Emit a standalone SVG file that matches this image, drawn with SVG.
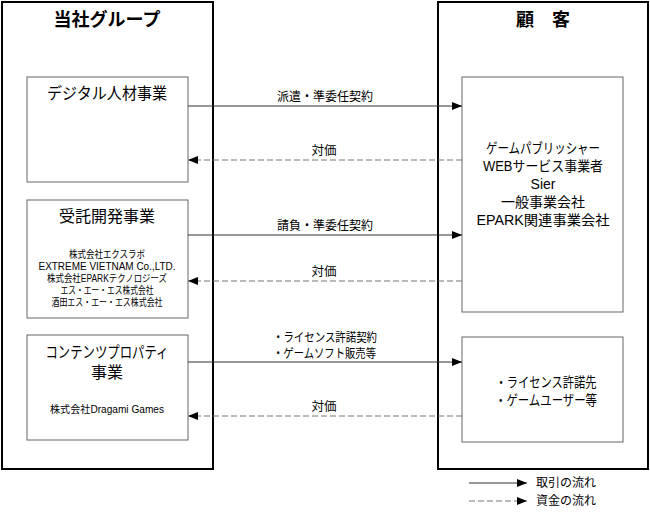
<svg xmlns="http://www.w3.org/2000/svg" width="650" height="515" viewBox="0 0 650 515">
<defs>
<marker id="ah" viewBox="0 0 10 10" refX="10" refY="5" markerWidth="10" markerHeight="10" markerUnits="userSpaceOnUse" orient="auto">
<path d="M0,1 L10,5 L0,9 Z" fill="#000"/>
</marker>
</defs>
<style>
text{font-family:"Liberation Sans","Noto Sans CJK JP",sans-serif;fill:#000;text-anchor:middle}
.outer{fill:#fff;stroke:#000;stroke-width:2}
.inner{fill:#fff;stroke:#666;stroke-width:1}
.h1{font-size:18px;font-weight:bold;font-family:"Noto Sans CJK JP",sans-serif}
.h2{font-size:16px}
.sm{font-size:10px}
.md{font-size:14px}
.lb{font-size:12.5px}
.lg{font-size:12px}
.solid{stroke:#333;stroke-width:1;fill:none}
.dash{stroke:#777;stroke-width:1.2;stroke-dasharray:6,3;fill:none}
</style>
<rect width="650" height="515" fill="#fff"/>
<g id="group-left">
<rect class="outer" x="2" y="2" width="211" height="467"/>
<text class="h1" x="107" y="26">当社グループ</text>
</g>
<g id="group-right">
<rect class="outer" x="438" y="2" width="210" height="467"/>
<text class="h1" x="543" y="26" xml:space="preserve">顧　客</text>
</g>
<g id="node-digital">
<rect class="inner" x="27" y="77" width="161" height="105"/>
<text class="h2" x="107" y="99" textLength="120" lengthAdjust="spacingAndGlyphs">デジタル人材事業</text>
</g>
<g id="node-contract">
<rect class="inner" x="27" y="200" width="161" height="118"/>
<text class="h2" x="107" y="222">受託開発事業</text>
<text class="sm" x="107" y="258" textLength="76" lengthAdjust="spacingAndGlyphs">株式会社エクスラボ</text>
<text class="sm" x="107" y="270" textLength="137" lengthAdjust="spacingAndGlyphs">EXTREME VIETNAM Co.,LTD.</text>
<text class="sm" x="107" y="282" textLength="120" lengthAdjust="spacingAndGlyphs">株式会社EPARKテクノロジーズ</text>
<text class="sm" x="107" y="294" textLength="93" lengthAdjust="spacingAndGlyphs">エス・エー・エス株式会社</text>
<text class="sm" x="107" y="306" textLength="111" lengthAdjust="spacingAndGlyphs">酒田エス・エー・エス株式会社</text>
</g>
<g id="node-content">
<rect class="inner" x="27" y="335" width="161" height="105"/>
<text class="h2" x="107" y="358" textLength="123" lengthAdjust="spacingAndGlyphs">コンテンツプロパティ</text>
<text class="h2" x="107" y="378">事業</text>
<text class="sm" x="107" y="413" textLength="114" lengthAdjust="spacingAndGlyphs">株式会社Dragami Games</text>
</g>
<g id="node-customers">
<rect class="inner" x="462" y="77" width="161" height="235"/>
<text class="md" x="543" y="153" textLength="114" lengthAdjust="spacingAndGlyphs">ゲームパブリッシャー</text>
<text class="md" x="543" y="171" textLength="120" lengthAdjust="spacingAndGlyphs">WEBサービス事業者</text>
<text class="md" x="543" y="189">Sier</text>
<text class="md" x="543" y="207">一般事業会社</text>
<text class="md" x="543" y="225" textLength="133" lengthAdjust="spacingAndGlyphs">EPARK関連事業会社</text>
</g>
<g id="node-licensees">
<rect class="inner" x="462" y="337" width="161" height="105"/>
<text class="md" x="546" y="387" textLength="101" lengthAdjust="spacingAndGlyphs">・ライセンス許諾先</text>
<text class="md" x="546" y="405" textLength="102" lengthAdjust="spacingAndGlyphs">・ゲームユーザー等</text>
</g>
<g id="connectors">
<line class="solid" x1="188" y1="106" x2="462" y2="106" marker-end="url(#ah)"/>
<text class="lb" x="325" y="101" textLength="96" lengthAdjust="spacingAndGlyphs">派遣・準委任契約</text>
<line class="dash" x1="462" y1="160" x2="188" y2="160" marker-end="url(#ah)"/>
<text class="lb" x="324" y="155">対価</text>
<line class="solid" x1="188" y1="235" x2="462" y2="235" marker-end="url(#ah)"/>
<text class="lb" x="325" y="230" textLength="96" lengthAdjust="spacingAndGlyphs">請負・準委任契約</text>
<line class="dash" x1="462" y1="281" x2="188" y2="281" marker-end="url(#ah)"/>
<text class="lb" x="324" y="276">対価</text>
<line class="solid" x1="188" y1="362" x2="462" y2="362" marker-end="url(#ah)"/>
<text class="lb" x="273" y="342" style="text-anchor:start" textLength="104" lengthAdjust="spacingAndGlyphs">・ライセンス許諾契約</text>
<text class="lb" x="273" y="358" style="text-anchor:start" textLength="103" lengthAdjust="spacingAndGlyphs">・ゲームソフト販売等</text>
<line class="dash" x1="462" y1="416" x2="188" y2="416" marker-end="url(#ah)"/>
<text class="lb" x="324" y="411">対価</text>
</g>
<g id="legend">
<line class="solid" x1="469" y1="483" x2="527" y2="483" marker-end="url(#ah)"/>
<text class="lg" x="536" y="487" style="text-anchor:start">取引の流れ</text>
<line class="dash" x1="469" y1="501" x2="527" y2="501" stroke-dasharray="3,2" marker-end="url(#ah)"/>
<text class="lg" x="536" y="505" style="text-anchor:start">資金の流れ</text>
</g>
</svg>
